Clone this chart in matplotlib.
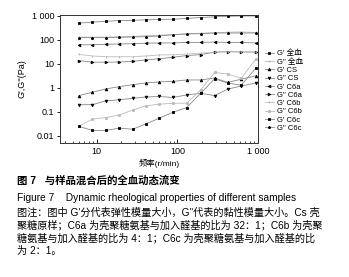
import matplotlib
matplotlib.use("Agg")
from matplotlib import pyplot as plt
from matplotlib.ticker import FixedLocator, LogLocator, NullFormatter, NullLocator

plt.rcParams['font.family'] = ['Liberation Sans', 'Noto Sans CJK SC']

# frequency (r/min)
freq = [6, 8.8, 13, 19, 28, 41, 60, 88, 130, 195, 290, 420, 620, 940]

g1_blood = [500, 550, 600, 640, 660, 690, 720, 730, 790, 860, 920, 970, 990, 1000]
g2_blood = [130, 130, 132, 135, 140, 150, 158, 165, 178, 190, 200, 210, 215, 205]
g1_cs = [0.48, 0.66, 0.91, 1.13, 1.37, 1.62, 1.78, 1.87, 2.15, 2.15, 2.6, 1.7, 2.3, 3.2]
g2_cs = [0.2, 0.2, 0.29, 0.32, 0.37, 0.42, 0.44, 0.40, 0.51, 0.6, 0.48, 0.89, 1.2, 1.6]
g1_c6a = [63, 63, 66, 68, 70, 73, 75, 75, 79, 79, 82, 79, 79, 75]
g2_c6a = [13.8, 11.8, 11.8, 12, 12.9, 14.7, 16.5, 19, 22.3, 24.5, 31, 32.6, 31.6, 31]
g1_c6b = [25, 21.5, 20, 20, 20, 21.5, 23.7, 24, 26, 28, 31, 32, 32, 31]
g2_c6b = [0.025, 0.05, 0.058, 0.075, 0.12, 0.18, 0.21, 0.23, 0.23, 0.83, 4.4, 3.8, 2.5, 16]
g1_c6c = [0.025, 0.017, 0.017, 0.021, 0.019, 0.032, 0.055, 0.097, 0.15, 0.6, 2.4, 1.6, 1.3, 6.6]
g2_c6c = [125, 125, 125, 129, 133, 137, 147, 166, 178, 183, 195, 195, 195, 195]

series = [
    ("G' 全血", g1_blood, 's', 'black', '#888888'),
    ('G" 全血', g2_blood, '+', '#aaaaaa', '#bbbbbb'),
    ("G' CS", g1_cs, '^', 'black', '#888888'),
    ('G" CS', g2_cs, 'v', 'black', '#888888'),
    ("G' C6a", g1_c6a, '<', 'black', '#888888'),
    ('G" C6a', g2_c6a, '>', 'black', '#888888'),
    ("G' C6b", g1_c6b, '|', '#aaaaaa', '#bbbbbb'),
    ('G" C6b', g2_c6b, 's', '#bbbbbb', '#bbbbbb'),
    ("G' C6c", g1_c6c, 's', 'black', '#888888'),
    ('G" C6c', g2_c6c, '*', 'black', '#888888'),
]

fig = plt.figure(figsize=(3.49, 2.77), dpi=100)
ax = fig.add_axes([0.172, 0.484, 0.567, 0.462])

for label, vals, mk, mc, lc in series:
    ax.plot(freq, vals, color=lc, lw=0.6, marker=mk, ms=1.9,
            mfc=mc, mec=mc, mew=0.6, label=label)

ax.set_xscale('log')
ax.set_yscale('log')
ax.set_xlim(3.5, 1000)
ax.set_ylim(0.0051, 1100)

ax.xaxis.set_major_locator(FixedLocator([10, 100, 1000]))
ax.set_xticklabels(['10', '100', '1 000'])
ax.xaxis.set_minor_locator(LogLocator(base=10, subs=range(2, 10)))
ax.xaxis.set_minor_formatter(NullFormatter())
ax.yaxis.set_major_locator(FixedLocator([0.01, 0.1, 1, 10, 100, 1000]))
ax.set_yticklabels(['0.01', '0.1', '1', '10', '100', '1 000'])
ax.yaxis.set_minor_locator(NullLocator())

ax.tick_params(axis='x', which='major', direction='in', length=3, width=0.6, labelsize=6.5, pad=3)
ax.tick_params(axis='x', which='minor', direction='in', length=1.8, width=0.5)
ax.tick_params(axis='y', direction='out', length=2, width=0.6, labelsize=6.5, pad=2)
for sp in ax.spines.values():
    sp.set_linewidth(0.7)
    sp.set_color('#333333')

ax.set_xlabel('频率(r/min)', fontsize=6, labelpad=2)
ax.set_ylabel("G',G''(Pa)", fontsize=6.5, labelpad=4)

ax.legend(loc='upper left', bbox_to_anchor=(0.748, 0.835), bbox_transform=fig.transFigure,
          frameon=False, fontsize=5.5, handlelength=1.2, handletextpad=0.4,
          labelspacing=0.12, borderpad=0, markerscale=1.0)

fig.text(0.049, 0.347, '图 7   与样品混合后的全血动态流变', fontsize=7.5, weight='bold', va='center')
fig.text(0.049, 0.285, 'Figure 7    Dynamic rheological properties of different samples',
         fontsize=7.3, va='center')
notes = [
    '图注：图中 G\'分代表弹性模量大小，G"代表的黏性模量大小。Cs 壳',
    '聚糖原样；C6a 为壳聚糖氨基与加入醛基的比为 32：1；C6b 为壳聚',
    '糖氨基与加入醛基的比为 4：1；C6c 为壳聚糖氨基与加入醛基的比',
    '为 2：1。',
]
for i, line in enumerate(notes):
    fig.text(0.049, 0.232 - i * 0.0455, line, fontsize=7.3, va='center', weight='medium')

plt.savefig('out.png', dpi=100)
